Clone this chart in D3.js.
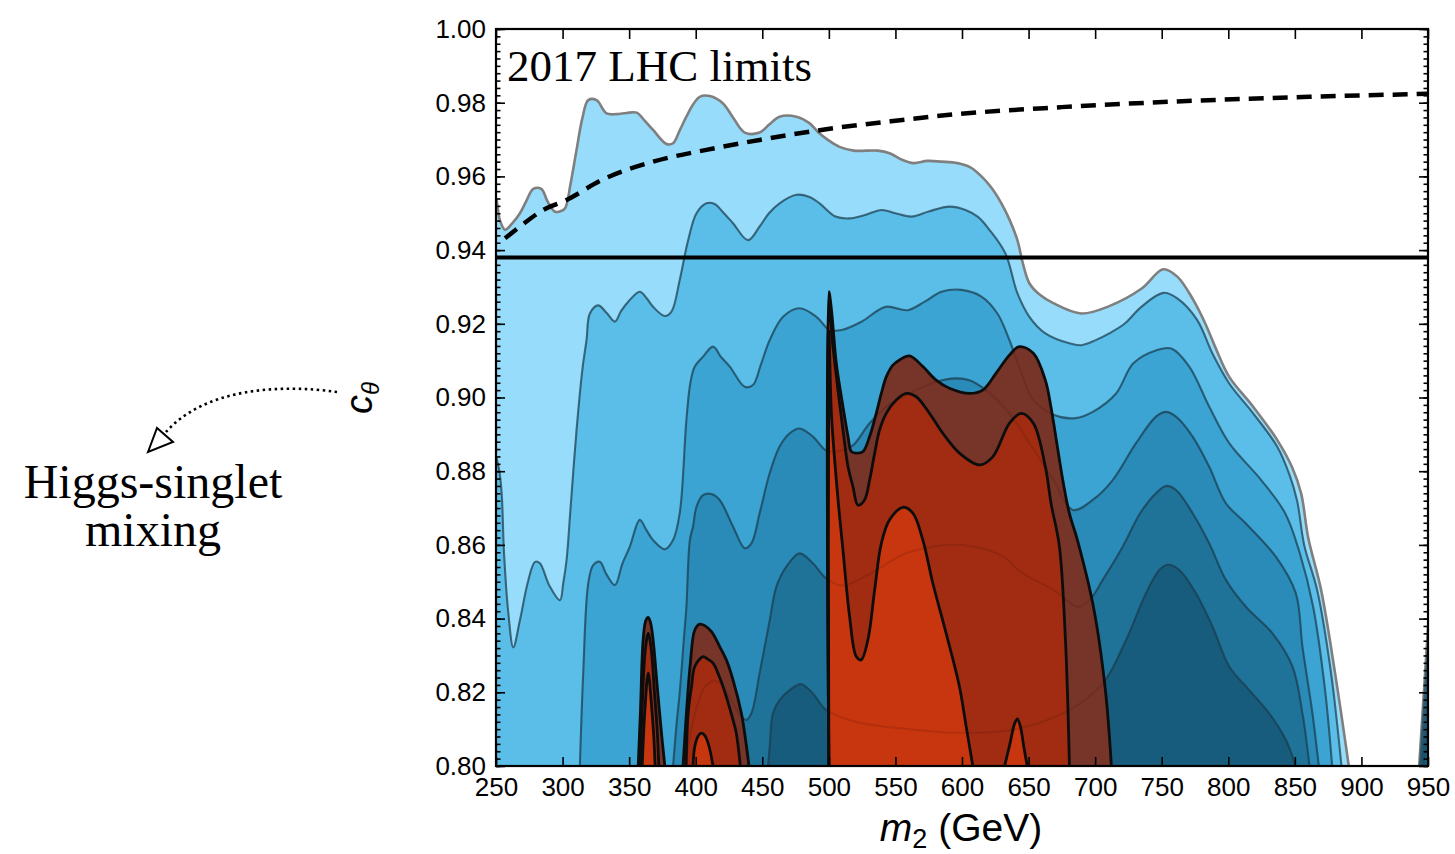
<!DOCTYPE html>
<html>
<head>
<meta charset="utf-8">
<script src="https://cdn.jsdelivr.net/npm/d3@7"></script>
<style>
  html, body { margin: 0; padding: 0; background: #fff; }
  svg { display: block; }
</style>
</head>
<body>
<svg id="chart" width="1455" height="854"></svg>
<script>
// ---- axis ticks ----
const xTicks = [250, 300, 350, 400, 450, 500, 550, 600, 650, 700, 750, 800, 850, 900, 950];
const yTicks = [0.80, 0.82, 0.84, 0.86, 0.88, 0.90, 0.92, 0.94, 0.96, 0.98, 1.00];

// ---- excluded regions: blue contour levels, outermost first; each is [m2, c_theta] along the top edge ----
const blueLevel1 = [[250,0.80],[250,0.954],[253,0.948],[256.8,0.9455],[262,0.9472],[268,0.950],[273,0.9535],[278,0.9566],[284,0.9566],[289,0.953],[294.3,0.9504],[298,0.9505],[301.8,0.9513],[306,0.958],[310.5,0.9672],[315,0.976],[319.3,0.9807],[325.5,0.9807],[333,0.9771],[340.5,0.9769],[348,0.9772],[355.6,0.9773],[362,0.975],[368,0.9726],[378,0.9688],[383,0.969],[388,0.9725],[393,0.9762],[398,0.9795],[403,0.9816],[410.6,0.9818],[420.5,0.9798],[428,0.976],[436.8,0.9719],[448,0.9719],[455,0.974],[463,0.9762],[475.6,0.9762],[485.6,0.9744],[492,0.972],[499.3,0.9699],[508,0.968],[518.6,0.967],[536.6,0.967],[545.6,0.9663],[555,0.9645],[563.6,0.9636],[574,0.9642],[584.6,0.964],[596.6,0.9636],[606,0.9625],[614.6,0.96],[622,0.957],[629.6,0.9527],[636,0.948],[641.6,0.9427],[646,0.936],[650.6,0.931],[658,0.928],[668.6,0.9256],[689.7,0.9228],[710.6,0.9248],[734.7,0.9295],[751.2,0.9348],[761.7,0.9328],[773.7,0.9265],[782.7,0.9201],[791,0.913],[800.7,0.9056],[818.7,0.8975],[836.7,0.8885],[848,0.881],[854.7,0.874],[860,0.862],[869.7,0.8478],[880.2,0.8252],[890.5,0.80]];
const blueLevel2 = [[250,0.80],[250,0.884],[252.5,0.880],[254.3,0.8738],[256,0.858],[259.3,0.8414],[263,0.8322],[268,0.8396],[274,0.850],[279.3,0.8554],[283,0.855],[290,0.849],[298,0.845],[300.5,0.8496],[303,0.8559],[306,0.870],[310.5,0.8912],[315,0.908],[318,0.9156],[320.5,0.9228],[326.8,0.925],[333,0.923],[339.3,0.9206],[344,0.9235],[349.3,0.926],[358,0.9287],[363,0.927],[368,0.9246],[376.8,0.9221],[381.8,0.9233],[388,0.9319],[394.3,0.9427],[400.6,0.95],[408,0.9527],[414.3,0.9525],[420,0.9505],[428,0.9473],[439.3,0.9427],[448,0.9464],[455,0.950],[463,0.9527],[475.6,0.955],[485,0.9545],[493,0.9527],[505,0.9491],[515.6,0.9486],[527,0.9495],[539.6,0.9509],[550,0.950],[562.1,0.9491],[575,0.9505],[590.6,0.9518],[602.6,0.9509],[612,0.949],[620.6,0.9455],[632.6,0.9391],[641.6,0.9283],[650.6,0.9219],[662.6,0.9174],[680.6,0.9147],[689.6,0.9142],[700,0.9155],[710.6,0.9174],[722,0.920],[734.7,0.9246],[751.2,0.9284],[761.7,0.9269],[776.7,0.921],[788,0.912],[800.7,0.9038],[818.7,0.8957],[836.7,0.8867],[846,0.879],[851.7,0.872],[857,0.860],[866.7,0.8478],[877.2,0.8252],[885,0.80]];
const blueLevel3 = [[313,0.80],[315.5,0.8252],[319.3,0.8496],[323,0.8545],[328,0.8554],[333,0.852],[339.3,0.8491],[345,0.855],[350.5,0.8595],[358,0.8668],[363,0.864],[368,0.8613],[376.8,0.8588],[383,0.8613],[388,0.8686],[393,0.8939],[396,0.904],[399.3,0.9084],[405.5,0.9111],[413,0.9138],[419,0.911],[425.6,0.9084],[436.8,0.9029],[443,0.9034],[449,0.909],[455.6,0.9156],[465.6,0.9219],[478,0.9242],[490.6,0.9219],[500.6,0.9183],[509.6,0.9183],[524.6,0.9206],[542.6,0.9246],[559.1,0.9237],[572,0.926],[584.6,0.9287],[599.6,0.9292],[614.6,0.9274],[626.6,0.9228],[635.6,0.9156],[644.6,0.9066],[653.6,0.8993],[668.6,0.8953],[685.2,0.8944],[698.2,0.8961],[715.7,0.9011],[728.7,0.9093],[746.7,0.9129],[757.2,0.9133],[770.7,0.9084],[785.7,0.8975],[800.7,0.8876],[824.7,0.8776],[842.7,0.8686],[853.5,0.858],[863.7,0.8433],[872.7,0.8206],[878,0.80]];
const blueLevel4 = [[383,0.80],[385.5,0.811],[388,0.820],[391,0.834],[393,0.8432],[395.6,0.8613],[398,0.865],[400.6,0.8704],[405.5,0.8735],[411.8,0.8738],[418,0.8722],[428,0.865],[436.8,0.8591],[441.8,0.8604],[448,0.8686],[455.6,0.8795],[463,0.8867],[470.6,0.8903],[478,0.8916],[488,0.8894],[498,0.8856],[508,0.8855],[518,0.887],[530.6,0.893],[545,0.898],[560.6,0.9011],[580,0.9042],[595.6,0.9052],[605.6,0.9047],[618,0.902],[635.6,0.8957],[650,0.888],[668.6,0.8776],[683.2,0.8695],[698.2,0.8722],[713.2,0.8776],[730.7,0.8876],[745.7,0.8948],[753.2,0.8961],[760.7,0.8948],[773.2,0.8894],[785.7,0.8812],[798.2,0.8713],[813.2,0.8658],[835.7,0.8568],[850.7,0.8469],[855.7,0.8324],[863.2,0.8143],[868,0.80]];
const blueLevel5 = [[392,0.80],[400,0.815],[408,0.822],[416,0.823],[425,0.819],[433,0.814],[438,0.8125],[441.8,0.8143],[448,0.8252],[455.6,0.8396],[460.6,0.8487],[468.1,0.8541],[478,0.8577],[488,0.855],[498,0.8509],[510,0.849],[530,0.852],[560,0.858],[600,0.860],[630,0.857],[645,0.8524],[668.6,0.8478],[686.7,0.8432],[695.7,0.845],[705.7,0.8505],[720.7,0.8595],[733.8,0.8686],[745.7,0.874],[753.2,0.876],[760.7,0.8749],[773.2,0.8686],[785.7,0.8604],[798.2,0.8505],[813.2,0.8432],[833.2,0.836],[848.2,0.827],[855.7,0.8143],[861,0.80]];
const blueLevel6 = [[454.3,0.80],[455.6,0.8053],[458,0.8143],[463,0.8179],[470.6,0.8206],[479.3,0.8222],[488,0.8197],[498,0.8152],[520,0.812],[560,0.810],[600,0.809],[640,0.810],[680,0.815],[705.7,0.8224],[723.2,0.8342],[738.2,0.8469],[748.2,0.8532],[754.5,0.8546],[763.2,0.8532],[775.7,0.8469],[788.2,0.8378],[800.7,0.827],[815.7,0.8206],[830.7,0.8143],[843.2,0.8071],[850.5,0.80]];

// thin region re-entering at the right edge: foot position and height at m2 = 950, per level
const edgeFoot = [943.3, 943.8, 944.4, 945.0, 945.7, 946.5];
const edgeTop  = [0.838, 0.834, 0.830, 0.825, 0.819, 0.812];

// ---- red regions (three nested levels in three islands) ----
const redOuterA  = [[356.8,0.80],[358.5,0.815],[360.5,0.8342],[362.5,0.8395],[364.3,0.8403],[366,0.839],[368,0.8342],[371,0.822],[374,0.81],[376.8,0.80]];
const redMiddleA = [[358.3,0.80],[360,0.818],[362,0.831],[364.3,0.836],[366.5,0.832],[369,0.82],[371,0.81],[372.3,0.80]];
const redInnerA  = [[359.8,0.80],[361.8,0.815],[364.3,0.8252],[366.7,0.817],[368.5,0.808],[369.5,0.80]];

const redOuterB  = [[390.5,0.80],[393,0.8143],[396,0.828],[399.3,0.8369],[403,0.8385],[406.8,0.8381],[412,0.8364],[418,0.8324],[423,0.8288],[428,0.8234],[434.3,0.8143],[437.5,0.807],[440,0.80]];
const redMiddleB = [[392.8,0.80],[394.3,0.8143],[397,0.822],[399.3,0.827],[405.5,0.8297],[409,0.829],[413,0.8279],[418,0.824],[423,0.8188],[428,0.8125],[430.5,0.8089],[433.5,0.80]];
const redInnerB  = [[398,0.80],[399.3,0.8053],[402,0.8082],[404.3,0.8089],[407,0.8082],[409.3,0.8062],[411.5,0.803],[413,0.80]];

const redOuterC  = [[500,0.80],[500,0.9287],[501.9,0.924],[505.6,0.9093],[510.6,0.8975],[514.4,0.8894],[516.9,0.8853],[520.6,0.8849],[525.6,0.8853],[530.6,0.8894],[535.6,0.8957],[539.4,0.9011],[543.1,0.9056],[548.1,0.9088],[553.1,0.9102],[560.6,0.9113],[570.6,0.9084],[580.6,0.9047],[590.6,0.9025],[605.6,0.9011],[615.6,0.902],[625.6,0.9066],[635.6,0.9115],[643.1,0.9138],[653.6,0.912],[662.6,0.9047],[667,0.897],[671.6,0.8867],[676,0.877],[680.6,0.8686],[686.7,0.8613],[698.7,0.8432],[707.7,0.8206],[712.2,0.80]];
const redMiddleC = [[500,0.80],[500,0.925],[503.1,0.9138],[506.8,0.902],[510.6,0.8912],[514.4,0.8812],[518.1,0.8758],[521.8,0.8708],[526.8,0.8722],[530.6,0.8776],[534.4,0.8849],[538.1,0.8912],[543.1,0.8957],[550.6,0.8993],[558.1,0.9011],[565.6,0.9002],[575.6,0.8957],[585.6,0.8903],[598.1,0.8849],[613.1,0.8817],[623.1,0.8839],[635.6,0.893],[644.6,0.8957],[653.6,0.893],[662.6,0.8812],[667,0.871],[673,0.86],[677.7,0.8342],[680.7,0.80]];
const redInnerC  = [[500,0.80],[500,0.918],[501.9,0.8957],[505.6,0.8776],[508,0.868],[510.6,0.8586],[515.6,0.8405],[520.6,0.8297],[524.3,0.8288],[529.3,0.8342],[534.4,0.8478],[539.4,0.8604],[545.6,0.8668],[555.6,0.8702],[563.1,0.8686],[570.6,0.8613],[578.1,0.8496],[588.1,0.836],[598.1,0.8215],[603,0.811],[608.1,0.80]];
const redInnerC2 = [[632,0.80],[636,0.806],[639.5,0.8115],[641.6,0.8128],[644,0.8105],[646.5,0.805],[649,0.80]];

// ---- reference curves ----
const dashedMass = [256.8, 268, 285.5, 303, 329.3, 368, 408, 448, 498, 550, 590.6, 674.6, 758.6, 860.6, 950];
const dashedCos  = [0.9432, 0.9464, 0.9509, 0.9536, 0.959, 0.964, 0.9672, 0.9699, 0.9728, 0.9751, 0.9767, 0.9788, 0.9803, 0.9816, 0.9824];
const solidCos = 0.938;

// ---- styling ----
const blueLevels = [blueLevel1, blueLevel2, blueLevel3, blueLevel4, blueLevel5, blueLevel6];
const blueFills  = ["#97ddfb", "#5bbee8", "#3ba4d3", "#2a8ab8", "#1f7399", "#185c7d"];
const redFills   = ["#773428", "#a12c12", "#c8360f"];

const plotLeft = 496, plotRight = 1428, plotTop = 29, plotBottom = 766;

const x = d3.scaleLinear().domain([250, 950]).range([plotLeft, plotRight]);
const y = d3.scaleLinear().domain([0.80, 1.00]).range([plotBottom, plotTop]);

const svg = d3.select("#chart");
const defs = svg.append("defs");
defs.append("clipPath").attr("id", "plotClip")
  .append("rect").attr("x", plotLeft).attr("y", plotTop)
  .attr("width", plotRight - plotLeft).attr("height", plotBottom - plotTop);

const smooth = d3.line()
  .x(d => x(d[0])).y(d => y(d[1]))
  .curve(d3.curveCatmullRom.alpha(0.5));
const straight = d3.line().x(d => x(d[0])).y(d => y(d[1]));

const plot = svg.append("g").attr("clip-path", "url(#plotClip)");

// blue fills
blueLevels.forEach((pts, i) => {
  plot.append("path").attr("d", smooth(pts) + "Z").attr("fill", blueFills[i]);
});
// right-edge sliver
edgeFoot.forEach((f, i) => {
  const pts = [[f, 0.80], [950, edgeTop[i]], [950, 0.80]];
  plot.append("path").attr("d", straight(pts) + "Z").attr("fill", blueFills[i])
    .attr("stroke", i === 0 ? "#7f7f7f" : "#1b3c4c")
    .attr("stroke-opacity", i === 0 ? 1 : 0.6)
    .attr("stroke-width", i === 0 ? 2.4 : 1.6);
});
// blue contour lines
const blueLineStyle = (sel, i) => sel
  .attr("fill", "none")
  .attr("stroke", i === 0 ? "#7f7f7f" : "#1b3c4c")
  .attr("stroke-opacity", i === 0 ? 1 : 0.72)
  .attr("stroke-width", i === 0 ? 2.6 : 2.1)
  .attr("stroke-linejoin", "round");
blueLevels.forEach((pts, i) => {
  plot.append("path").attr("d", smooth(pts)).call(blueLineStyle, i);
});

// red islands
const redIslands = [
  [redOuterA, redMiddleA, redInnerA],
  [redOuterB, redMiddleB, redInnerB],
  [redOuterC, redMiddleC, redInnerC, redInnerC2]
];
const redClip = defs.append("clipPath").attr("id", "redClip");
redIslands.forEach(island => {
  redClip.append("path").attr("d", smooth(island[0]) + "Z");
});
redIslands.forEach(island => {
  island.forEach((pts, k) => {
    plot.append("path").attr("d", smooth(pts) + "Z").attr("fill", redFills[Math.min(k, 2)]);
  });
});
// blue contours faintly visible through the red layers
const ghost = plot.append("g").attr("clip-path", "url(#redClip)");
blueLevels.forEach(pts => {
  ghost.append("path").attr("d", smooth(pts))
    .attr("fill", "none").attr("stroke", "#3a0e04")
    .attr("stroke-opacity", 0.15).attr("stroke-width", 2);
});
// red contour lines
redIslands.forEach(island => {
  island.forEach(pts => {
    plot.append("path").attr("d", smooth(pts))
      .attr("fill", "none").attr("stroke", "#0d0d0d")
      .attr("stroke-width", 2.8).attr("stroke-linejoin", "round");
  });
});

// horizontal solid line
plot.append("line")
  .attr("x1", x(250)).attr("x2", x(950))
  .attr("y1", y(solidCos)).attr("y2", y(solidCos))
  .attr("stroke", "#000").attr("stroke-width", 4);

// dashed curve
const dashedPts = dashedMass.map((m, i) => [m, dashedCos[i]]);
plot.append("path")
  .attr("d", d3.line().x(d => x(d[0])).y(d => y(d[1])).curve(d3.curveMonotoneX)(dashedPts))
  .attr("fill", "none").attr("stroke", "#000")
  .attr("stroke-width", 4.5).attr("stroke-dasharray", "15,9");

// ---- axes ----
const tickFont = "'Liberation Sans', Arial, Helvetica, sans-serif";
const minorY = y.ticks(100);

function styleAxis(g) {
  g.select(".domain").remove();
  g.selectAll(".tick line").attr("stroke", "#000").attr("stroke-width", 1.6);
  g.selectAll(".tick text").attr("fill", "#000")
    .style("font-family", tickFont).style("font-size", "26px");
}

svg.append("g").attr("transform", `translate(0,${plotBottom})`)
  .call(d3.axisBottom(x).tickValues(xTicks).tickSize(-9).tickSizeOuter(0).tickPadding(12).tickFormat(d3.format("d")))
  .call(styleAxis);
svg.append("g").attr("transform", `translate(0,${plotTop})`)
  .call(d3.axisTop(x).tickValues(xTicks).tickSize(-10).tickSizeOuter(0).tickFormat(""))
  .call(styleAxis);
svg.append("g").attr("transform", `translate(${plotLeft},0)`)
  .call(d3.axisLeft(y).tickValues(minorY).tickSize(-4.5).tickSizeOuter(0).tickFormat(""))
  .call(styleAxis);
svg.append("g").attr("transform", `translate(${plotLeft},0)`)
  .call(d3.axisLeft(y).tickValues(yTicks).tickSize(-9).tickSizeOuter(0).tickPadding(10).tickFormat(d3.format(".2f")))
  .call(styleAxis);
svg.append("g").attr("transform", `translate(${plotRight},0)`)
  .call(d3.axisRight(y).tickValues(minorY).tickSize(-4.5).tickSizeOuter(0).tickFormat(""))
  .call(styleAxis);
svg.append("g").attr("transform", `translate(${plotRight},0)`)
  .call(d3.axisRight(y).tickValues(yTicks).tickSize(-9).tickSizeOuter(0).tickFormat(""))
  .call(styleAxis);

// frame
svg.append("rect")
  .attr("x", plotLeft).attr("y", plotTop)
  .attr("width", plotRight - plotLeft).attr("height", plotBottom - plotTop)
  .attr("fill", "none").attr("stroke", "#000").attr("stroke-width", 2.2);

// ---- titles ----
const xTitle = svg.append("text")
  .attr("x", 961).attr("y", 841).attr("text-anchor", "middle")
  .style("font-family", tickFont).style("font-size", "39px").attr("fill", "#000");
xTitle.append("tspan").style("font-style", "italic").text("m");
xTitle.append("tspan").attr("dy", 7).style("font-size", "27px").text("2");
xTitle.append("tspan").attr("dy", -7).text(" (GeV)");

const yTitle = svg.append("text")
  .attr("transform", "translate(372,398) rotate(-90)")
  .attr("text-anchor", "middle")
  .style("font-family", tickFont).style("font-size", "38px").attr("fill", "#000");
yTitle.append("tspan").style("font-style", "italic").text("c");
yTitle.append("tspan").attr("dy", 7).style("font-size", "24px").style("font-style", "italic").text("θ");

const serif = "'Liberation Serif', 'DejaVu Serif', 'Times New Roman', serif";
svg.append("text")
  .attr("x", 507).attr("y", 81)
  .style("font-family", serif).style("font-size", "45px").attr("fill", "#000")
  .text("2017 LHC limits");

const note = svg.append("text")
  .attr("text-anchor", "middle")
  .style("font-family", serif).style("font-size", "48px").attr("fill", "#000");
note.append("tspan").attr("x", 153).attr("y", 498).text("Higgs-singlet");
note.append("tspan").attr("x", 153).attr("y", 546).text("mixing");

// dotted pointer from the axis label to the annotation
const pointer = d3.path();
pointer.moveTo(337, 392);
pointer.bezierCurveTo(280, 384, 205, 388, 166, 432);
svg.append("path").attr("d", pointer.toString())
  .attr("fill", "none").attr("stroke", "#000")
  .attr("stroke-width", 2.6).attr("stroke-dasharray", "2.5,3.5");
svg.append("path")
  .attr("d", "M148,452 L157,428 L173,442 Z")
  .attr("fill", "#fff").attr("stroke", "#000").attr("stroke-width", 2);
</script>
</body>
</html>
